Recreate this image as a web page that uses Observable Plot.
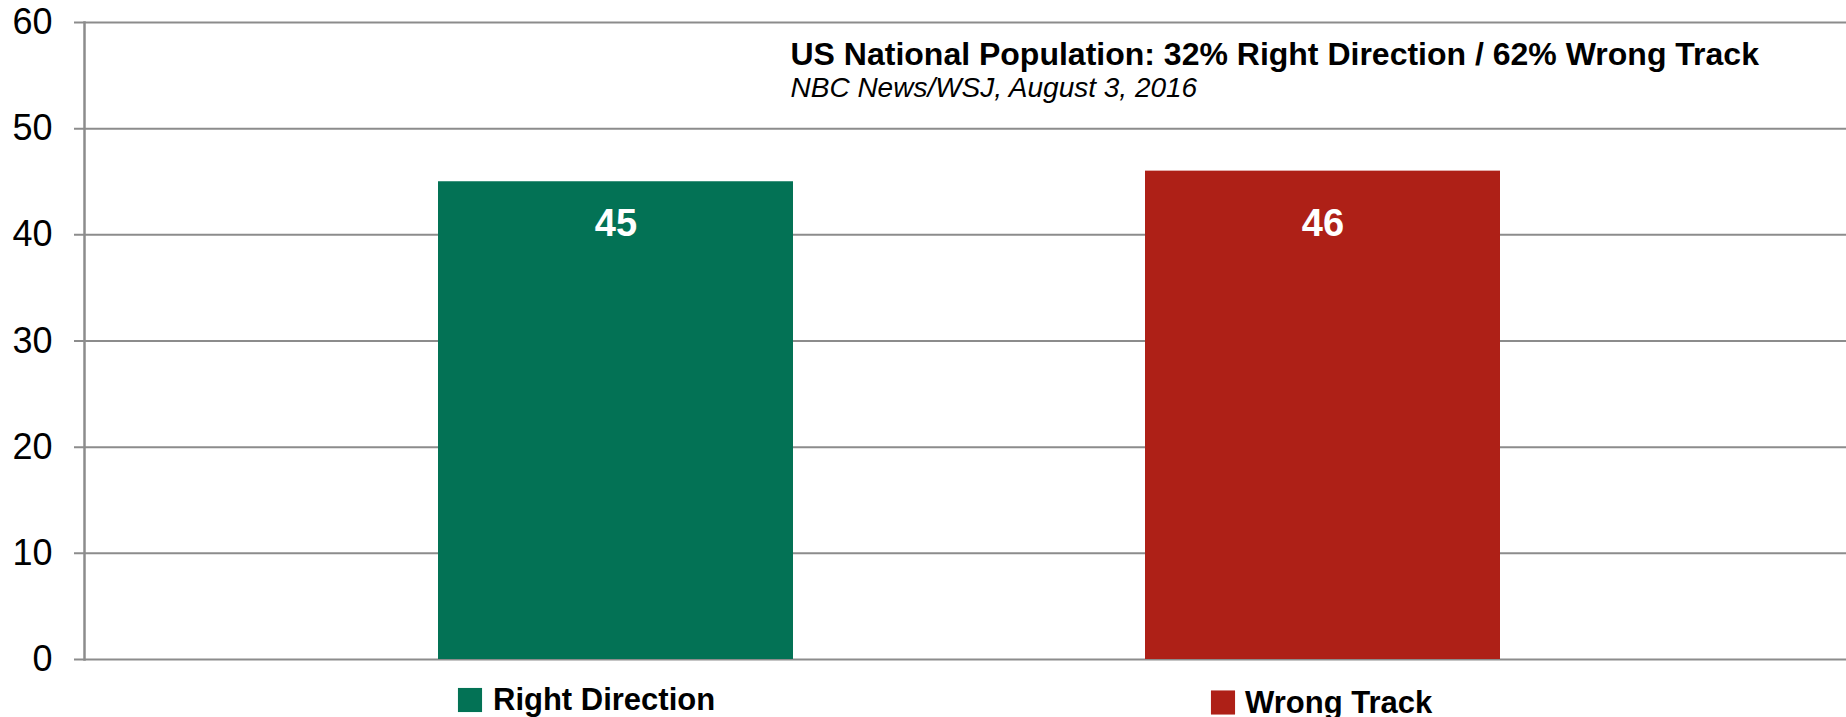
<!DOCTYPE html>
<html>
<head>
<meta charset="utf-8">
<script src="https://cdn.jsdelivr.net/npm/d3@7"></script>
<script src="https://cdn.jsdelivr.net/npm/@observablehq/plot@0.6"></script>
<style>
  html, body { margin: 0; padding: 0; background: #fff; }
  #chart svg { display: block; font-family: "Liberation Sans", Arial, sans-serif; }
</style>
</head>
<body>
<div id="chart"></div>
<script>
// ---- data ----
const categories = ["Right Direction", "Wrong Track"];
const values = [45, 46];
const colors = ["#037255", "#AE2017"];
const yTicks = [0, 10, 20, 30, 40, 50, 60];
const titleText = "US National Population: 32% Right Direction / 62% Wrong Track";
const subtitleText = "NBC News/WSJ, August 3, 2016";

const data = categories.map((c, i) => ({category: c, value: values[i]}));

const grid = "#8c8c8c";
const font = "Liberation Sans, Arial, sans-serif";

// legend item offsets (layout only)
const legendDx = [-123, -78];
const swatchDx = [-146, -100];
const legendDy = [50, 53];
const swatchDy = [40.5, 43];

const legendMarks = [];
categories.forEach((c, i) => {
  legendMarks.push(Plot.dot([c], {
    x: d => d, frameAnchor: "bottom", dx: swatchDx[i], dy: swatchDy[i],
    symbol: "square", r: 13.6, fill: colors[i], stroke: "none"
  }));
  legendMarks.push(Plot.text([c], {
    x: d => d, text: d => d, frameAnchor: "bottom", dx: legendDx[i], dy: legendDy[i],
    textAnchor: "start", fontSize: 31, fontWeight: "bold", fill: "#000", fontFamily: font
  }));
});

const chart = Plot.plot({
  width: 1846,
  height: 717,
  marginTop: 22,
  marginBottom: 58,
  marginLeft: 74,
  marginRight: 0,
  style: {fontFamily: font, background: "#fff"},
  x: {domain: categories, range: [88, 1850], paddingInner: 0.498, paddingOuter: 0.495, axis: null},
  y: {domain: [0, 60], ticks: yTicks, label: null},
  color: {domain: categories, range: colors},
  marks: [
    Plot.ruleY(yTicks, {stroke: grid, strokeWidth: 2}),
    Plot.frame({anchor: "left", stroke: grid, strokeWidth: 2.5, dx: 10}),
    Plot.axisY(yTicks, {tickSize: 0, tickPadding: 22, fontSize: 36, fill: "#000", label: null, tickFormat: d => String(d)}),
    Plot.barY(data, {x: "category", y: "value", fill: "category"}),
    Plot.text(data, {x: "category", text: d => String(d.value), frameAnchor: "top", dy: 187,
      fill: "#fff", fontSize: 38, fontWeight: "bold", fontFamily: font}),
    Plot.text([titleText], {text: d => d, frameAnchor: "top-left", dx: 716, dy: 20,
      textAnchor: "start", fontSize: 32, fontWeight: "bold", fill: "#000", fontFamily: font}),
    Plot.text([subtitleText], {text: d => d, frameAnchor: "top-left", dx: 716, dy: 55,
      textAnchor: "start", fontSize: 28, fontStyle: "italic", fill: "#000", fontFamily: font}),
    ...legendMarks
  ]
});

document.getElementById("chart").appendChild(chart);
</script>
</body>
</html>
